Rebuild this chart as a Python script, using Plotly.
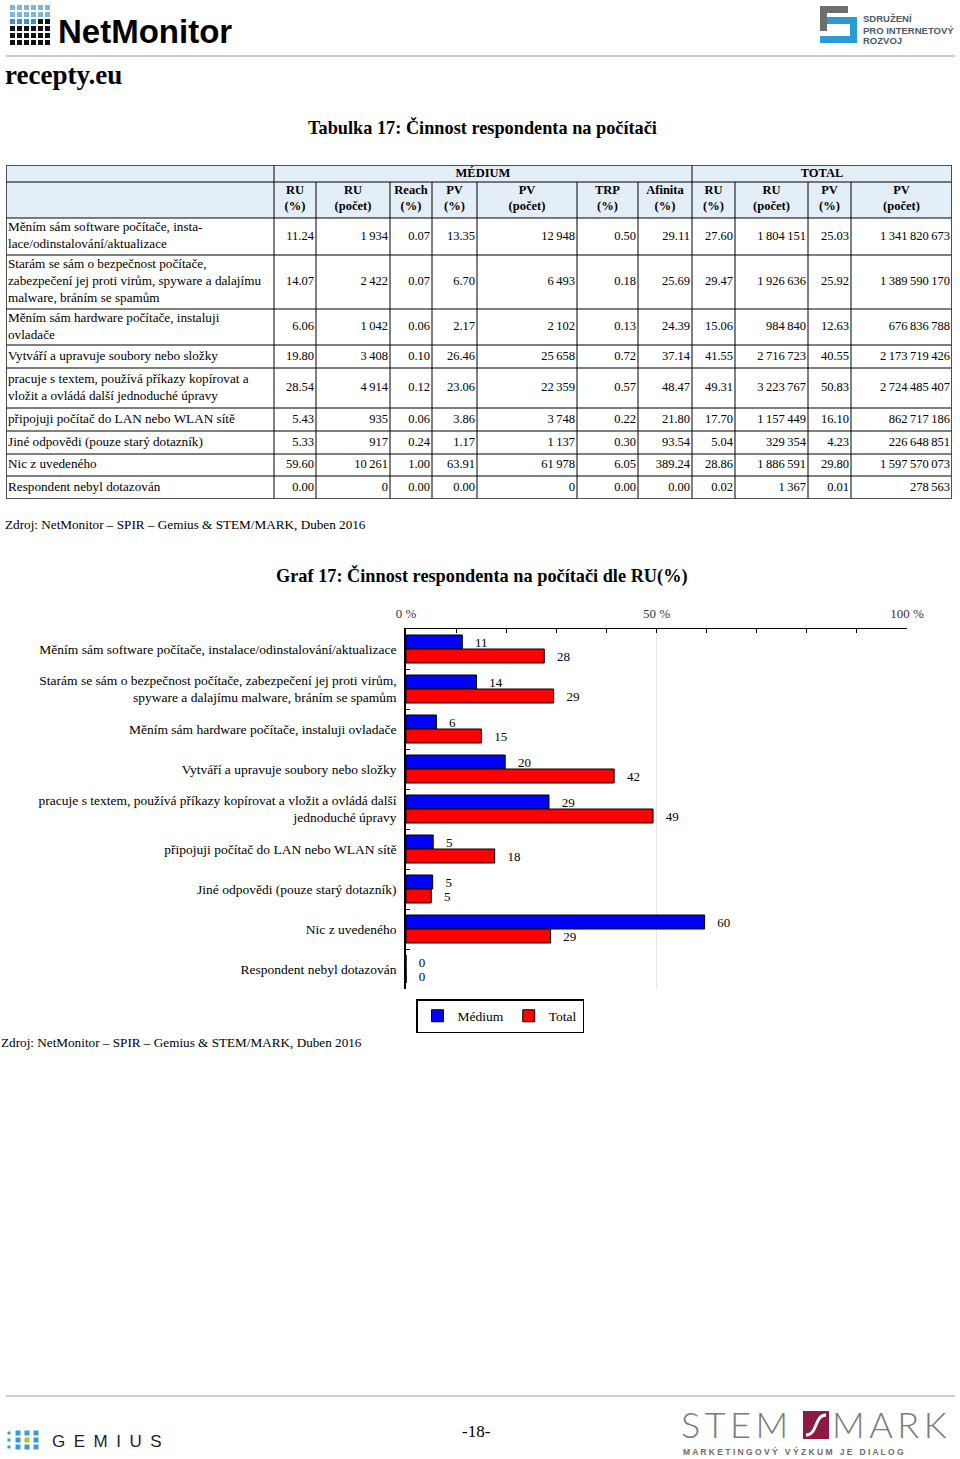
import plotly.graph_objects as go

W, H = 960, 1459
SERIF = "Liberation Serif"
SANS = "Liberation Sans"

# ---- data -------------------------------------------------------------
categories = [
    "Měním sám software počítače, instalace/odinstalování/aktualizace",
    "Starám se sám o bezpečnost počítače, zabezpečení jej proti virům,<br>spyware a dalajímu malware, bráním se spamům",
    "Měním sám hardware počítače, instaluji ovladače",
    "Vytváří a upravuje soubory nebo složky",
    "pracuje s textem, používá příkazy kopírovat a vložit a ovládá další<br>jednoduché úpravy",
    "připojuji počítač do LAN nebo WLAN sítě",
    "Jiné odpovědi (pouze starý dotazník)",
    "Nic z uvedeného",
    "Respondent nebyl dotazován",
]
table_labels = [
    "Měním sám software počítače, insta-<br>lace/odinstalování/aktualizace",
    "Starám se sám o bezpečnost počítače,<br>zabezpečení jej proti virům, spyware a dalajímu<br>malware, bráním se spamům",
    "Měním sám hardware počítače, instaluji<br>ovladače",
    "Vytváří a upravuje soubory nebo složky",
    "pracuje s textem, používá příkazy kopírovat a<br>vložit a ovládá další jednoduché úpravy",
    "připojuji počítač do LAN nebo WLAN sítě",
    "Jiné odpovědi (pouze starý dotazník)",
    "Nic z uvedeného",
    "Respondent nebyl dotazován",
]
group_headers = ["MÉDIUM", "TOTAL"]
group_sizes = [7, 4]
col_headers = ["RU<br>(%)", "RU<br>(počet)", "Reach<br>(%)", "PV<br>(%)", "PV<br>(počet)",
               "TRP<br>(%)", "Afinita<br>(%)", "RU<br>(%)", "RU<br>(počet)", "PV<br>(%)",
               "PV<br>(počet)"]

medium_ru_pct = [11.24, 14.07, 6.06, 19.80, 28.54, 5.43, 5.33, 59.60, 0.00]
medium_ru_cnt = [1934, 2422, 1042, 3408, 4914, 935, 917, 10261, 0]
medium_reach = [0.07, 0.07, 0.06, 0.10, 0.12, 0.06, 0.24, 1.00, 0.00]
medium_pv_pct = [13.35, 6.70, 2.17, 26.46, 23.06, 3.86, 1.17, 63.91, 0.00]
medium_pv_cnt = [12948, 6493, 2102, 25658, 22359, 3748, 1137, 61978, 0]
medium_trp = [0.50, 0.18, 0.13, 0.72, 0.57, 0.22, 0.30, 6.05, 0.00]
medium_afinita = [29.11, 25.69, 24.39, 37.14, 48.47, 21.80, 93.54, 389.24, 0.00]
total_ru_pct = [27.60, 29.47, 15.06, 41.55, 49.31, 17.70, 5.04, 28.86, 0.02]
total_ru_cnt = [1804151, 1926636, 984840, 2716723, 3223767, 1157449, 329354, 1886591, 1367]
total_pv_pct = [25.03, 25.92, 12.63, 40.55, 50.83, 16.10, 4.23, 29.80, 0.01]
total_pv_cnt = [1341820673, 1389590170, 676836788, 2173719426, 2724485407,
                862717186, 226648851, 1597570073, 278563]

x_ticks = [0, 50, 100]
x_tick_labels = ["0 %", "50 %", "100 %"]
source_text = "Zdroj: NetMonitor – SPIR – Gemius & STEM/MARK, Duben 2016"

# ---- table geometry (pixels) -------------------------------------------
col_widths = [268, 42, 74, 42, 45, 100, 61, 54, 43, 73, 43, 101]
row_heights = [17, 36, 37, 54, 36, 23, 40, 23, 23, 22, 23]


def px(x):
    return x / W


def py(y):
    return 1 - y / H


def fmt_pct(v):
    return f"{v:.2f}"


def fmt_cnt(v):
    return f"{v:,}".replace(",", "\u2009")


table_cols = [
    (medium_ru_pct, fmt_pct), (medium_ru_cnt, fmt_cnt), (medium_reach, fmt_pct),
    (medium_pv_pct, fmt_pct), (medium_pv_cnt, fmt_cnt), (medium_trp, fmt_pct),
    (medium_afinita, fmt_pct), (total_ru_pct, fmt_pct), (total_ru_cnt, fmt_cnt),
    (total_pv_pct, fmt_pct), (total_pv_cnt, fmt_cnt),
]

x_edges = [0]
for w in col_widths:
    x_edges.append(x_edges[-1] + w)
y_edges = [0]
for h in row_heights:
    y_edges.append(y_edges[-1] + h)
row_mid = [(y_edges[i] + y_edges[i + 1]) / 2 for i in range(len(row_heights))]

fig = go.Figure()

# ---- bar chart ----------------------------------------------------------
for name, vals, color in [("Médium", medium_ru_pct, "#0000ff"), ("Total", total_ru_pct, "#ff0000")]:
    fig.add_trace(go.Bar(
        name=name, y=categories, x=vals, orientation="h",
        marker=dict(color=color, line=dict(color="black", width=1)),
        texttemplate="\u00a0\u00a0\u00a0%{x:.0f}", textposition="outside",
        constraintext="none", cliponaxis=False,
        textfont=dict(family=SERIF, size=13, color="black"),
        hoverinfo="skip",
    ))

# ---- table ----------------------------------------------------------------
shapes = []
shapes.append(dict(type="rect", xref="x2", yref="y2", x0=0, x1=x_edges[-1], y0=0, y1=y_edges[2],
                   fillcolor="#e4eef9", line=dict(width=0), layer="below"))
group_cut = [0, 1]
for s in group_sizes:
    group_cut.append(group_cut[-1] + s)
for i, xe in enumerate(x_edges):
    y0 = 0 if i in group_cut else y_edges[1]
    shapes.append(dict(type="line", xref="x2", yref="y2", x0=xe, x1=xe, y0=y0, y1=y_edges[-1],
                       line=dict(color="black", width=1)))
for ye in y_edges:
    shapes.append(dict(type="line", xref="x2", yref="y2", x0=0, x1=x_edges[-1], y0=ye, y1=ye,
                       line=dict(color="black", width=1)))
shapes.append(dict(type="rect", xref="x2", yref="y2", x0=0, x1=x_edges[-1], y0=0, y1=y_edges[-1],
                   line=dict(color="#444444", width=1.6)))

gx = [(x_edges[group_cut[k]] + x_edges[group_cut[k + 1]]) / 2 for k in range(1, len(group_cut) - 1)]
fig.add_trace(go.Scatter(
    x=gx, y=[row_mid[0]] * len(gx), text=[f"<b>{t}</b>" for t in group_headers],
    mode="text", textposition="middle center", xaxis="x2", yaxis="y2",
    textfont=dict(family=SERIF, size=12.5, color="black"), showlegend=False, hoverinfo="skip",
    cliponaxis=False))
fig.add_trace(go.Scatter(
    x=[(x_edges[i] + x_edges[i + 1]) / 2 for i in range(1, len(x_edges) - 1)],
    y=[row_mid[1] - 1] * len(col_headers), text=[f"<b>{t}</b>" for t in col_headers],
    mode="text", textposition="middle center", xaxis="x2", yaxis="y2",
    textfont=dict(family=SERIF, size=12.5, color="black"), showlegend=False, hoverinfo="skip",
    cliponaxis=False))
fig.add_trace(go.Scatter(
    x=[2] * len(table_labels), y=row_mid[2:], text=table_labels,
    mode="text", textposition="middle right", xaxis="x2", yaxis="y2",
    textfont=dict(family=SERIF, size=13.2, color="black"), showlegend=False, hoverinfo="skip",
    cliponaxis=False))
for ci, (vals, f) in enumerate(table_cols):
    fig.add_trace(go.Scatter(
        x=[x_edges[ci + 2] - 2] * len(vals), y=row_mid[2:], text=[f(v) for v in vals],
        mode="text", textposition="middle left", xaxis="x2", yaxis="y2",
        textfont=dict(family=SERIF, size=12.5, color="black"), showlegend=False, hoverinfo="skip",
        cliponaxis=False))


# ---- page decoration ------------------------------------------------------
def rect(x0, y0, x1, y1, color):
    shapes.append(dict(type="rect", xref="paper", yref="paper", x0=px(x0), x1=px(x1),
                       y0=py(y1), y1=py(y0), fillcolor=color, line=dict(width=0)))


def hline(y, color="#9a9a9a"):
    shapes.append(dict(type="line", xref="paper", yref="paper", x0=px(6), x1=px(955),
                       y0=py(y), y1=py(y), line=dict(color=color, width=1.2)))


# NetMonitor icon
for r in range(6):
    for c in range(6):
        col = "#7db6de" if r < 2 else ("#3f8fcc" if r == 2 and c < 4 else "#111111")
        rect(10 + c * 7, 5 + r * 7, 15 + c * 7, 10 + r * 7, col)
# SPIR icon
rect(820, 6, 848, 13, "#6d6e70")
rect(820, 6, 827, 31, "#6d6e70")
rect(827, 17, 857, 24, "#2a9bd7")
rect(850, 17, 857, 43, "#2a9bd7")
rect(820, 36, 857, 43, "#2a9bd7")
hline(56)
hline(1396)
# GEMIUS dots
for r in range(3):
    for c in range(4):
        s = 1.5 if c == 0 else 2.5
        cx, cy = 9 + c * 9, 1433 + r * 7
        rect(cx - s, cy - s, cx + s, cy + s, "#a6c63a" if (r == 1 and c == 2) else "#3a98d6")
# STEM/MARK box
rect(803, 1411, 829, 1439, "#8b1a45")
shapes.append(dict(type="path", xref="paper", yref="paper",
                   path=f"M {px(806)} {py(1435)} C {px(818)} {py(1435)}, {px(814)} {py(1415)}, {px(826)} {py(1415)}",
                   line=dict(color="white", width=3)))

annotations = []


def note(text, x, y, size, family=SERIF, color="black", xanchor="left", bold=False, weight=None):
    d = dict(text=f"<b>{text}</b>" if bold else text, x=px(x), y=py(y), xref="paper", yref="paper",
             xanchor=xanchor, yanchor="middle", showarrow=False,
             font=dict(family=family, size=size, color=color))
    if weight:
        d["font"]["weight"] = weight
    annotations.append(d)


note("NetMonitor", 56, 32, 33, family=SANS, bold=True)
note("SDRUŽENÍ", 861, 19, 9.5, family=SANS, color="#4a5a6b", bold=True)
note("PRO INTERNETOVÝ", 861, 30, 9.5, family=SANS, color="#4a5a6b", bold=True)
note("ROZVOJ", 861, 41, 9.5, family=SANS, color="#4a5a6b", bold=True)
note("recepty.eu", 3, 75, 27, bold=True)
note("Tabulka 17: Činnost respondenta na počítači", 482, 127, 18.3, xanchor="center", bold=True)
note(source_text, 3, 524, 13.2)
note("Graf 17: Činnost respondenta na počítači dle RU(%)", 482, 576, 18.3, xanchor="center", bold=True)
note(source_text, -1, 1042, 13.2)
note("G\u2002E\u2002M\u2002I\u2002U\u2002S", 50, 1441, 17, family=SANS, color="#1d1d2b")
note("-18-", 476, 1431, 17, xanchor="center")
note("S\u2009T\u2009E\u2009M", 679, 1424, 36, family="Lato", color="#7a7a7a", weight=300)
note("M\u2009A\u2009R\u2009K", 830, 1424, 36, family="Lato", color="#7a7a7a", weight=300)
note("M A R K E T I N G O V Ý   V Ý Z K U M   J E   D I A L O G", 681, 1451, 8.5, family=SANS,
     color="#6d6d6d", bold=True)

fig.update_layout(
    width=W, height=H, margin=dict(l=0, r=0, t=0, b=0, autoexpand=False),
    paper_bgcolor="white", plot_bgcolor="white",
    barmode="group", bargap=0.3, bargroupgap=0,
    shapes=shapes, annotations=annotations,
    legend=dict(orientation="h", x=px(416), y=py(999), xanchor="left", yanchor="top",
                bordercolor="black", borderwidth=1.5, bgcolor="white",
                font=dict(family=SERIF, size=13.5, color="black")),
    xaxis=dict(domain=[px(406), px(907)], range=[0, 100], side="top", automargin=False,
               tickvals=x_ticks, ticktext=x_tick_labels, ticks="inside", ticklen=4,
               tickcolor="black", showline=True, linecolor="black", linewidth=1,
               showgrid=True, gridcolor="#e8e8e8", zeroline=False, ticklabelstandoff=5,
               minor=dict(dtick=10, tick0=0, ticks="inside", ticklen=4, tickcolor="black",
                          showgrid=False),
               tickfont=dict(family=SERIF, size=13, color="#333333")),
    yaxis=dict(domain=[py(989), py(629)], type="category", autorange="reversed", automargin=False,
               showline=True, linecolor="black", linewidth=1.5, ticks="inside",
               tickson="boundaries", ticklen=4, tickcolor="black", ticklabelstandoff=5,
               tickfont=dict(family=SERIF, size=13.5, color="black"),
               showgrid=False, zeroline=False),
    xaxis2=dict(domain=[px(6), px(952)], range=[0, x_edges[-1]], visible=False, anchor="y2",
                automargin=False),
    yaxis2=dict(domain=[py(499), py(165)], range=[y_edges[-1], 0], visible=False, anchor="x2",
                automargin=False),
)

fig.write_html("out.html", config={"displayModeBar": False},
               post_script="document.body.style.margin='0';")
